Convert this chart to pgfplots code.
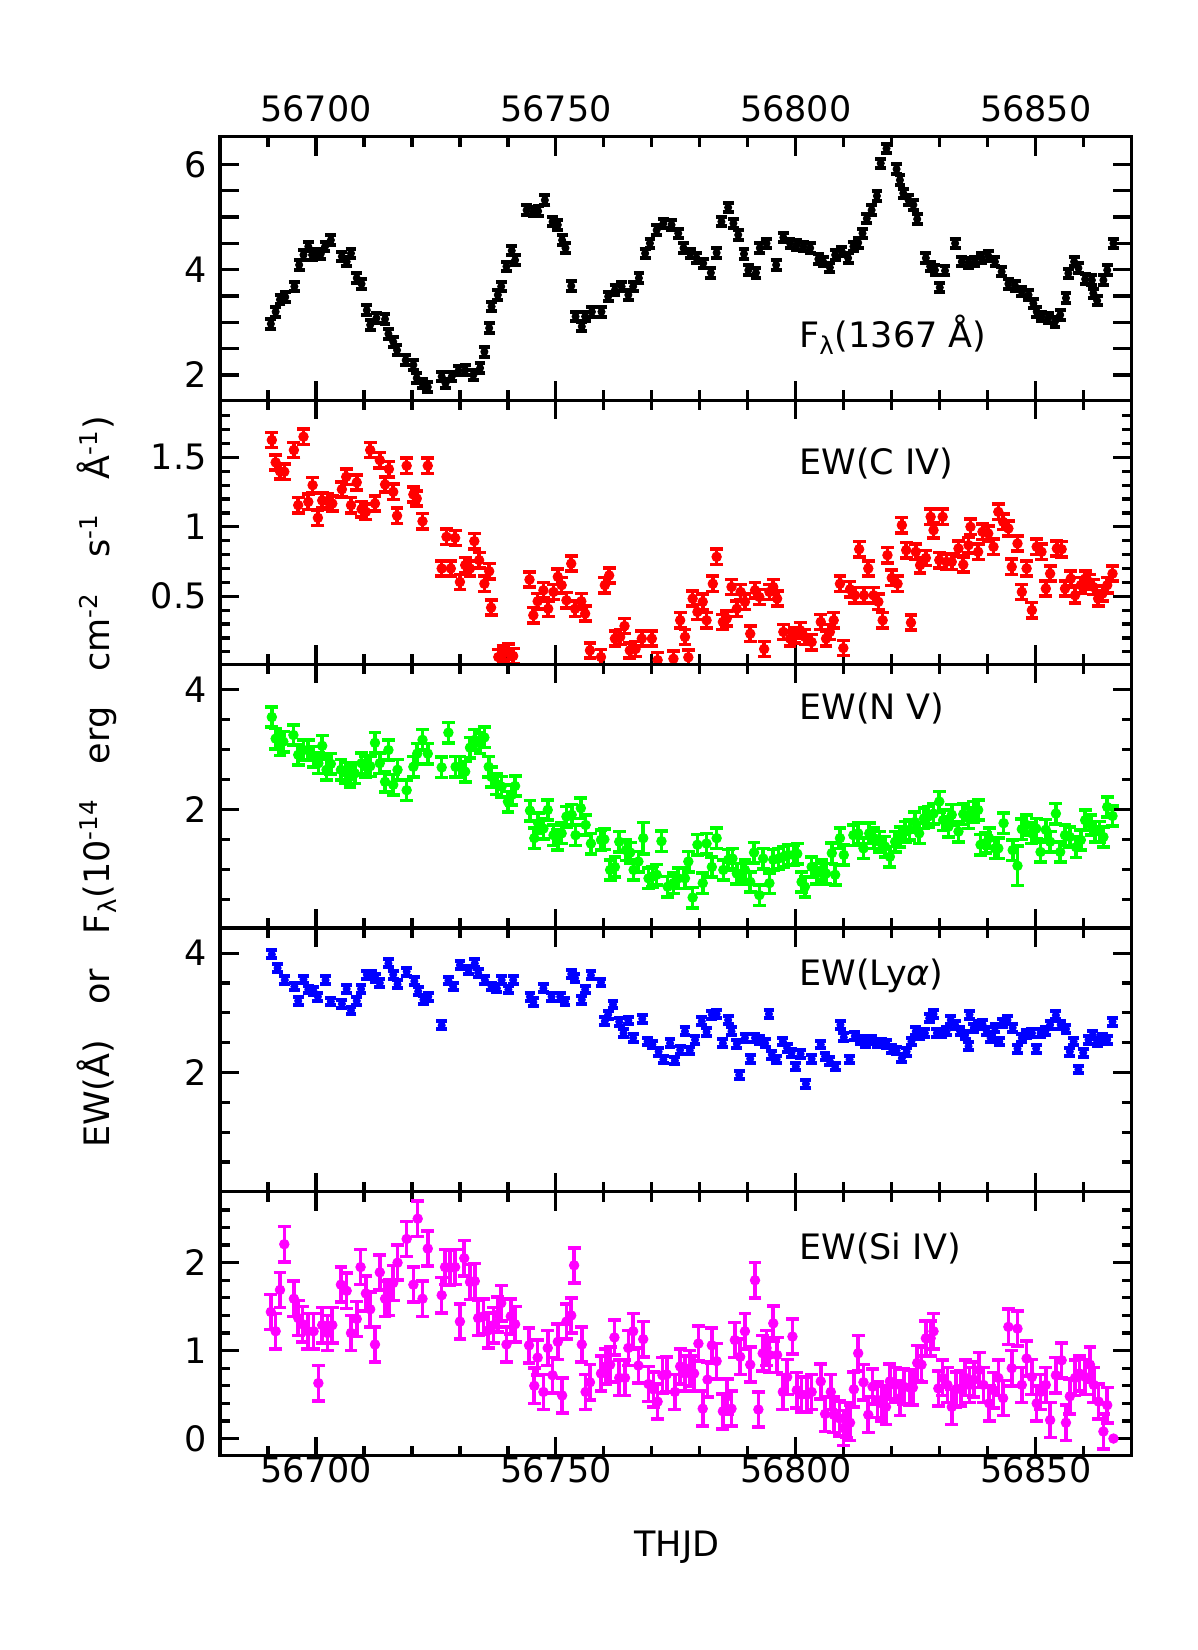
\documentclass[border=0pt]{standalone}
\usepackage{pgfplots}
\pgfplotsset{compat=1.18}
\usepackage{fontspec}
\setmainfont{DejaVu Sans}

\definecolor{grn}{RGB}{0,255,0}
\definecolor{mag}{RGB}{255,0,255}
\newcommand{\lblfont}{\fontsize{17.5}{21}\selectfont}
\newcommand{\wsp}{\hspace{1em}}

\pgfplotsset{
  panel/.style={
    scale only axis, width=455.85pt, height=131.9pt,
    anchor=south west,
    xmin=56680, xmax=56870,
    scaled x ticks=false, scaled y ticks=false,
    xtick={56700,56750,56800,56850},
    minor xtick={56690,56710,56720,56730,56740,56760,56770,56780,56790,56810,56820,56830,56840,56860},
    xtick pos=both, ytick pos=both,
    xticklabels={},
    tick align=inside,
    major tick length=9.5pt, minor tick length=5pt,
    tick style={black, line width=1.6pt},
    axis line style={line width=1.6pt},
    tick label style={font=\lblfont},
    yticklabel style={xshift=-3.2pt},
  },
  % #1 colour, #2 dot size, #3 half error, #4 cap half width, #5 bar width
  ser/.style n args={5}{
    only marks, color=#1, mark=*, mark size=#2,
    mark options={solid, draw=#1, fill=#1},
    error bars/.cd, y dir=both, y fixed=#3,
    error bar style={line width=#5, #1},
    error mark options={rotate=90, line width=#5, mark size=#4, #1},
    /pgfplots/.cd,
  },
}

\begin{document}
\begin{tikzpicture}
\useasboundingbox (0,0) rectangle (599pt,825pt);

% ---------------- F_lambda(1367 A) ----------------
\begin{axis}[panel, at={(110pt,624.75pt)},
  ymin=1.515, ymax=6.525,
  ytick={2,4,6}, yticklabels={2,4,6},
  extra y ticks={2.5,3,3.5,4.5,5,5.5}, extra y tick labels={},
  xticklabel pos=upper,
  xticklabels={56700,56750,56800,56850},
  xticklabel style={yshift=3.7pt}]
\addplot+[ser={black}{1.8pt}{0.09}{2.7pt}{2pt}] coordinates {
(56690.6,2.97) (56691.6,3.20) (56692.5,3.43) (56693.6,3.48) (56695.5,3.68) (56696.5,4.09) (56697.4,4.28) (56698.4,4.44) (56699.2,4.28) (56700.1,4.31) (56701.0,4.30) (56701.9,4.44) (56703.1,4.56) (56705.4,4.25) (56706.4,4.15) (56707.3,4.31) (56708.5,3.84) (56709.5,3.73) (56710.6,3.23) (56711.3,2.95) (56712.6,3.08) (56714.4,3.06) (56715.1,2.78) (56716.1,2.63) (56716.9,2.47) (56718.7,2.28) (56720.3,2.19) (56721.0,1.94) (56722.2,1.84) (56723.3,1.77) (56726.2,1.97) (56727.0,1.84) (56728.3,1.97) (56729.7,2.08) (56731.1,2.09) (56732.8,2.00) (56734.2,2.13) (56735.1,2.44) (56736.1,2.89) (56736.6,3.30) (56737.9,3.52) (56738.6,3.68) (56739.7,4.06) (56740.8,4.36) (56741.5,4.18) (56743.9,5.13) (56745.3,5.10) (56746.3,5.11) (56747.7,5.32) (56749.3,4.91) (56750.4,4.85) (56751.3,4.56) (56752.0,4.41) (56753.2,3.69) (56754.1,3.11) (56755.4,2.92) (56756.1,3.11) (56757.5,3.20) (56759.5,3.20) (56760.9,3.49) (56762.3,3.61) (56763.7,3.68) (56765.1,3.52) (56766.1,3.68) (56767.3,3.84) (56768.6,4.31) (56769.6,4.50) (56771.0,4.75) (56772.4,4.88) (56774.1,4.85) (56775.5,4.69) (56776.6,4.41) (56778.0,4.31) (56779.3,4.22) (56780.7,4.12) (56782.3,3.94) (56783.5,4.32) (56784.5,4.91) (56785.9,5.18) (56787.0,4.88) (56788.0,4.66) (56789.2,4.30) (56790.1,3.99) (56791.7,3.94) (56792.5,4.41) (56793.9,4.50) (56795.9,4.09) (56797.4,4.61) (56798.8,4.50) (56800.2,4.47) (56801.6,4.44) (56803.0,4.41) (56804.7,4.20) (56805.7,4.15) (56807.1,4.04) (56808.2,4.28) (56809.6,4.34) (56810.9,4.22) (56812.0,4.44) (56813.0,4.51) (56813.9,4.69) (56814.8,4.97) (56815.8,5.13) (56816.9,5.40) (56817.7,6.02) (56818.9,6.30) (56821.0,5.91) (56821.7,5.70) (56822.4,5.45) (56823.5,5.32) (56824.5,5.23) (56825.3,4.96) (56827.1,4.22) (56828.0,4.06) (56829.0,3.99) (56830.0,3.66) (56831.1,3.98) (56833.2,4.50) (56834.6,4.15) (56836.0,4.13) (56837.3,4.15) (56838.7,4.22) (56840.1,4.26) (56841.5,4.15) (56842.9,3.96) (56844.3,3.73) (56845.7,3.69) (56847.1,3.58) (56848.5,3.52) (56849.5,3.36) (56850.2,3.20) (56851.2,3.11) (56852.6,3.08) (56854.0,3.01) (56855.1,3.14) (56856.3,3.46) (56856.8,3.93) (56858.0,4.15) (56858.9,4.03) (56860.3,3.82) (56861.7,3.80) (56862.0,3.55) (56862.8,3.41) (56864.1,3.80) (56864.9,3.99) (56866.2,4.50)
};
\node[anchor=base west, inner sep=0, font=\lblfont] at (rel axis cs:0.635,0.199) {F\textsubscript{λ}(1367 Å)};
\end{axis}

% ---------------- EW(C IV) ----------------
\begin{axis}[panel, at={(110pt,492.85pt)},
  ymin=0.01, ymax=1.91,
  ytick={0.5,1,1.5}, yticklabels={0.5,1,1.5},
  minor ytick={0.1,0.2,0.3,0.4,0.6,0.7,0.8,0.9,1.1,1.2,1.3,1.4,1.6,1.7,1.8}]
\addplot+[ser={red}{2.4pt}{0.055}{3.2pt}{1.8pt}] coordinates {
(56690.8,1.625) (56691.6,1.464) (56692.5,1.40) (56693.4,1.397) (56695.4,1.553) (56696.3,1.156) (56697.4,1.649) (56698.4,1.18) (56699.3,1.30) (56700.4,1.065) (56701.3,1.19) (56702.4,1.185) (56703.4,1.168) (56705.4,1.27) (56706.3,1.36) (56707.3,1.156) (56708.5,1.32) (56709.5,1.127) (56710.4,1.108) (56711.3,1.553) (56712.3,1.168) (56713.3,1.48) (56714.4,1.305) (56715.2,1.416) (56716.1,1.252) (56716.9,1.08) (56718.9,1.44) (56720.3,1.233) (56721.0,1.204) (56722.2,1.04) (56723.3,1.44) (56726.2,0.70) (56727.2,0.928) (56728.1,0.70) (56729.0,0.92) (56730.0,0.603) (56731.1,0.724) (56732.1,0.70) (56733.0,0.897) (56734.0,0.76) (56735.1,0.59) (56736.1,0.68) (56736.5,0.418) (56738.0,0.062) (56739.0,0.086) (56740.1,0.10) (56741.1,0.07) (56744.5,0.62) (56745.3,0.363) (56746.2,0.464) (56747.4,0.543) (56748.4,0.41) (56749.5,0.531) (56750.4,0.64) (56751.2,0.58) (56752.2,0.471) (56753.2,0.735) (56754.0,0.41) (56755.3,0.464) (56756.1,0.375) (56757.1,0.11) (56759.4,0.062) (56760.2,0.58) (56761.1,0.65) (56762.3,0.195) (56763.4,0.207) (56764.3,0.286) (56765.4,0.11) (56766.6,0.12) (56767.9,0.195) (56770.0,0.195) (56771.2,0.04) (56774.5,0.05) (56775.9,0.327) (56776.9,0.207) (56777.6,0.06) (56778.5,0.483) (56779.5,0.387) (56780.6,0.46) (56781.4,0.327) (56782.7,0.59) (56783.5,0.784) (56784.8,0.315) (56785.6,0.339) (56786.6,0.567) (56787.7,0.41) (56788.5,0.531) (56789.4,0.46) (56790.5,0.23) (56791.5,0.543) (56792.4,0.495) (56793.4,0.12) (56794.5,0.531) (56795.3,0.567) (56796.1,0.483) (56797.4,0.243) (56798.8,0.195) (56799.8,0.22) (56800.9,0.255) (56801.9,0.207) (56803.3,0.17) (56805.2,0.315) (56806.3,0.195) (56807.1,0.243) (56807.9,0.327) (56809.2,0.59) (56809.9,0.127) (56811.3,0.55) (56812.3,0.507) (56813.2,0.839) (56814.2,0.507) (56815.1,0.70) (56816.2,0.507) (56817.2,0.46) (56818.1,0.327) (56819.1,0.796) (56820.0,0.632) (56821.2,0.59) (56822.1,1.012) (56823.0,0.832) (56824.0,0.31) (56825.0,0.82) (56825.9,0.724) (56827.1,0.776) (56828.1,1.072) (56828.7,0.976) (56829.9,0.76) (56830.6,1.072) (56831.4,0.748) (56832.5,0.748) (56833.9,0.844) (56834.9,0.728) (56836.0,0.868) (56836.4,1.0) (56838.0,0.82) (56838.9,0.964) (56840.1,0.952) (56841.2,0.856) (56842.2,1.108) (56843.2,1.036) (56844.3,0.988) (56845.0,0.712) (56846.2,0.88) (56847.1,0.531) (56848.1,0.70) (56849.2,0.40) (56850.2,0.856) (56851.2,0.82) (56852.1,0.555) (56853.0,0.663) (56854.4,0.844) (56855.4,0.839) (56856.1,0.555) (56857.3,0.627) (56858.2,0.507) (56859.4,0.58) (56860.3,0.627) (56861.2,0.603) (56862.0,0.567) (56863.0,0.483) (56863.9,0.519) (56864.9,0.58) (56866.0,0.663)
};
\node[anchor=base west, inner sep=0, font=\lblfont] at (rel axis cs:0.635,0.718) {EW(C IV)};
\end{axis}

% ---------------- EW(N V) ----------------
\begin{axis}[panel, at={(110pt,360.95pt)},
  ymin=0.02, ymax=4.42,
  ytick={2,4}, yticklabels={2,4},
  minor ytick={0.5,1,1.5,2.5,3,3.5}]
\addplot+[ser={grn}{2.4pt}{0.17}{3.2pt}{1.8pt}] coordinates {
(56690.8,3.54) (56691.6,3.18) (56692.5,3.07) (56693.2,3.13) (56695.3,3.24) (56696.3,2.91) (56697.4,2.99) (56698.4,2.99) (56699.5,2.88) (56700.5,2.77) (56701.3,3.06) (56702.2,2.66) (56703.1,2.76) (56705.2,2.66) (56706.2,2.61) (56707.1,2.54) (56708.1,2.60) (56709.5,2.77) (56710.4,2.71) (56711.3,2.72) (56712.3,3.11) (56713.3,2.77) (56714.4,2.46) (56715.1,2.99) (56716.1,2.41) (56717.0,2.66) (56718.9,2.32) (56720.3,2.71) (56721.1,2.93) (56722.2,3.16) (56723.3,2.93) (56726.2,2.70) (56727.6,3.28) (56729.1,2.71) (56730.0,2.71) (56731.1,2.63) (56732.1,3.03) (56733.1,3.16) (56734.2,3.10) (56735.1,3.20) (56736.0,2.71) (56736.6,2.54) (56737.7,2.42) (56738.7,2.38) (56740.0,2.13) (56740.8,2.24) (56741.5,2.39) (56744.6,1.98) (56745.5,1.52) (56746.3,1.77) (56747.4,1.68) (56748.3,1.99) (56749.5,1.57) (56750.4,1.49) (56751.2,1.60) (56752.2,1.88) (56753.3,1.91) (56754.1,1.57) (56755.2,2.02) (56756.2,1.74) (56757.3,1.43) (56759.4,1.49) (56760.1,1.50) (56761.3,0.99) (56762.3,1.04) (56763.2,1.46) (56764.6,1.32) (56765.5,1.28) (56766.2,0.99) (56767.2,1.13) (56769.3,0.85) (56770.1,0.88) (56771.0,0.91) (56772.0,1.47) (56773.3,0.71) (56774.5,0.77) (56775.5,0.85) (56776.9,0.85) (56777.6,1.13) (56778.5,0.53) (56779.5,1.41) (56780.6,0.77) (56781.4,1.43) (56782.5,1.04) (56783.5,1.52) (56784.9,0.99) (56785.9,1.16) (56786.8,1.18) (56787.7,0.93) (56788.7,0.93) (56789.4,0.99) (56790.5,0.79) (56791.3,1.28) (56792.4,0.57) (56793.2,1.18) (56794.5,0.77) (56795.3,1.16) (56796.4,1.18) (56797.4,1.21) (56798.4,1.24) (56799.5,1.24) (56800.3,1.26) (56801.2,0.79) (56801.9,0.71) (56803.3,1.04) (56804.3,0.93) (56805.4,0.99) (56806.3,0.93) (56807.5,1.27) (56808.2,0.91) (56809.2,1.52) (56810.0,1.24) (56812.0,1.57) (56813.0,1.60) (56814.1,1.35) (56815.3,1.60) (56816.3,1.52) (56817.4,1.46) (56818.6,1.38) (56819.6,1.21) (56820.7,1.46) (56821.7,1.54) (56822.8,1.63) (56823.7,1.66) (56824.8,1.79) (56825.7,1.60) (56826.7,1.85) (56827.6,1.88) (56828.7,1.93) (56829.9,2.13) (56830.7,1.82) (56831.8,1.71) (56832.5,1.91) (56833.9,1.63) (56834.9,1.92) (56836.0,1.85) (56837.1,1.96) (56838.0,1.99) (56838.5,1.41) (56839.6,1.44) (56840.3,1.52) (56841.5,1.35) (56842.2,1.35) (56843.3,1.77) (56845.2,1.32) (56847.1,1.67) (56848.1,1.74) (56849.2,1.60) (56850.1,1.68) (56851.0,1.29) (56852.1,1.66) (56853.0,1.46) (56854.2,1.93) (56855.1,1.29) (56856.1,1.57) (56857.1,1.54) (56858.4,1.37) (56859.4,1.49) (56860.3,1.82) (56861.5,1.74) (56862.4,1.63) (56863.3,1.63) (56864.1,1.54) (56864.9,2.04) (56866.0,1.89)
};
% two epochs with larger uncertainties
\addplot+[ser={grn}{2.4pt}{0.17}{3.2pt}{1.8pt}, /pgfplots/error bars/y explicit] coordinates {
(56768.2,1.52) +- (0,0.26)
(56846.2,1.06) +- (0,0.33)
};
\node[anchor=base west, inner sep=0, font=\lblfont] at (rel axis cs:0.635,0.789) {EW(N V)};
\end{axis}

% ---------------- EW(Ly alpha) ----------------
\begin{axis}[panel, at={(110pt,229.05pt)},
  ymin=0, ymax=4.42,
  ytick={2,4}, yticklabels={2,4},
  minor ytick={0.5,1,1.5,2.5,3,3.5}]
\addplot+[ser={blue}{1.8pt}{0.065}{2.7pt}{2pt}] coordinates {
(56690.8,3.98) (56692.0,3.75) (56693.5,3.55) (56695.5,3.44) (56696.3,3.20) (56697.4,3.56) (56698.4,3.39) (56699.5,3.36) (56700.4,3.27) (56702.0,3.55) (56703.1,3.19) (56705.4,3.15) (56706.4,3.40) (56707.3,3.04) (56708.5,3.20) (56709.4,3.40) (56710.6,3.64) (56711.5,3.63) (56712.4,3.58) (56713.3,3.50) (56715.1,3.83) (56716.1,3.64) (56717.0,3.48) (56718.9,3.69) (56720.5,3.53) (56721.3,3.36) (56722.4,3.22) (56723.4,3.27) (56726.2,2.79) (56727.6,3.54) (56728.6,3.44) (56730.0,3.80) (56731.8,3.72) (56733.1,3.83) (56733.8,3.67) (56735.2,3.55) (56736.6,3.44) (56737.7,3.41) (56738.7,3.55) (56740.1,3.39) (56741.1,3.55) (56744.6,3.27) (56745.3,3.18) (56747.4,3.41) (56749.1,3.27) (56750.9,3.27) (56751.9,3.19) (56753.2,3.65) (56754.0,3.58) (56755.4,3.22) (56756.1,3.39) (56757.3,3.63) (56759.4,3.51) (56760.2,2.86) (56760.9,2.97) (56761.9,3.14) (56763.2,2.85) (56764.1,2.66) (56765.1,2.87) (56766.1,2.58) (56768.0,2.90) (56769.1,2.52) (56770.1,2.47) (56771.4,2.35) (56772.4,2.22) (56773.8,2.49) (56774.8,2.20) (56775.9,2.38) (56776.9,2.69) (56777.9,2.37) (56779.0,2.55) (56780.4,2.86) (56781.4,2.68) (56782.5,2.97) (56783.5,2.98) (56784.8,2.49) (56785.9,2.88) (56786.6,2.69) (56787.7,2.48) (56788.2,1.96) (56789.4,2.58) (56790.5,2.23) (56791.5,2.58) (56792.5,2.55) (56793.6,2.49) (56794.4,2.98) (56795.0,2.30) (56796.0,2.22) (56797.3,2.52) (56798.2,2.41) (56799.1,2.33) (56800.0,2.10) (56801.0,2.31) (56802.1,1.81) (56803.3,2.23) (56805.2,2.47) (56806.1,2.27) (56807.1,2.19) (56808.2,2.10) (56809.3,2.80) (56810.0,2.59) (56811.2,2.22) (56812.3,2.61) (56813.5,2.55) (56814.6,2.49) (56815.8,2.55) (56816.9,2.49) (56817.9,2.49) (56818.9,2.48) (56820.0,2.40) (56821.0,2.37) (56822.1,2.24) (56823.1,2.35) (56824.1,2.52) (56825.0,2.69) (56825.9,2.63) (56826.9,2.66) (56827.8,2.91) (56828.7,2.98) (56829.4,2.66) (56830.4,2.66) (56831.4,2.69) (56832.3,2.88) (56833.2,2.80) (56834.2,2.70) (56835.3,2.63) (56836.0,2.44) (56836.2,2.97) (56837.1,2.75) (56838.0,2.80) (56838.9,2.81) (56839.8,2.69) (56840.6,2.58) (56841.5,2.75) (56842.4,2.52) (56843.1,2.83) (56844.1,2.88) (56845.2,2.75) (56846.2,2.40) (56847.1,2.58) (56848.1,2.64) (56849.2,2.66) (56850.1,2.40) (56851.0,2.66) (56852.0,2.69) (56853.0,2.80) (56854.2,2.96) (56855.2,2.80) (56856.3,2.73) (56857.1,2.35) (56857.9,2.52) (56858.9,2.05) (56859.9,2.33) (56861.0,2.55) (56861.9,2.63) (56862.8,2.51) (56863.9,2.58) (56864.9,2.55) (56866.0,2.85)
};
\node[anchor=base west, inner sep=0, font=\lblfont] at (rel axis cs:0.635,0.784) {EW(Ly{\itshape α})};
\end{axis}

% ---------------- EW(Si IV) ----------------
\begin{axis}[panel, at={(110pt,97.15pt)},
  ymin=-0.195, ymax=2.805,
  ytick={0,1,2}, yticklabels={0,1,2},
  minor ytick={0.2,0.4,0.6,0.8,1.2,1.4,1.6,1.8,2.2,2.4,2.6},
  xticklabel pos=lower,
  xticklabels={56700,56750,56800,56850},
  xticklabel style={yshift=3pt}]
\addplot+[ser={mag}{2.4pt}{0.2}{3.2pt}{1.8pt}] coordinates {
(56690.6,1.44) (56691.6,1.22) (56692.5,1.69) (56693.4,2.21) (56695.4,1.59) (56696.3,1.37) (56697.2,1.30) (56698.3,1.22) (56699.5,1.22) (56700.5,0.63) (56701.3,1.29) (56702.4,1.20) (56703.4,1.29) (56705.2,1.75) (56706.4,1.68) (56707.3,1.20) (56708.5,1.36) (56709.3,1.95) (56710.4,1.65) (56711.3,1.47) (56712.3,1.07) (56713.3,1.89) (56714.4,1.59) (56715.2,1.60) (56716.1,1.77) (56717.0,2.00) (56718.9,2.27) (56720.3,1.75) (56721.2,2.50) (56722.2,1.59) (56723.3,2.16) (56726.2,1.63) (56726.9,1.95) (56727.9,1.94) (56729.0,1.95) (56730.0,1.33) (56730.9,2.05) (56732.1,1.78) (56733.1,1.79) (56733.8,1.37) (56734.9,1.39) (56735.9,1.23) (56737.0,1.29) (56737.9,1.41) (56738.6,1.54) (56739.7,1.07) (56740.6,1.39) (56741.5,1.30) (56744.4,1.06) (56745.5,0.60) (56746.2,0.92) (56747.4,0.53) (56748.3,1.03) (56749.3,0.72) (56750.4,1.10) (56751.3,0.49) (56752.2,1.33) (56753.2,1.40) (56753.8,1.97) (56755.4,1.07) (56756.2,0.53) (56757.1,0.64) (56759.4,0.74) (56760.4,0.82) (56761.3,0.84) (56762.2,1.15) (56763.2,0.69) (56764.4,0.69) (56765.1,1.03) (56766.1,1.22) (56767.2,0.83) (56768.2,1.13) (56769.3,0.62) (56770.3,0.56) (56771.2,0.42) (56772.2,0.72) (56773.1,0.73) (56774.8,0.53) (56775.9,0.82) (56776.9,0.74) (56777.9,0.80) (56778.8,0.74) (56779.7,1.08) (56780.6,0.34) (56781.6,0.67) (56782.5,1.06) (56783.5,0.88) (56784.8,0.31) (56785.7,0.48) (56786.6,0.34) (56787.3,1.12) (56788.4,0.93) (56789.4,1.22) (56790.5,0.84) (56791.5,1.80) (56792.2,0.33) (56793.1,0.97) (56793.9,1.03) (56794.5,0.95) (56795.3,1.31) (56796.1,0.95) (56797.3,0.53) (56798.2,0.70) (56799.3,1.16) (56800.2,0.55) (56801.2,0.50) (56802.3,0.50) (56803.3,0.53) (56805.2,0.65) (56806.1,0.28) (56807.3,0.53) (56807.9,0.27) (56809.1,0.23) (56809.9,0.12) (56810.6,0.21) (56811.3,0.18) (56812.1,0.56) (56813.0,0.97) (56814.1,0.64) (56815.1,0.27) (56816.0,0.59) (56817.0,0.44) (56817.9,0.40) (56818.8,0.36) (56819.6,0.65) (56820.7,0.61) (56821.7,0.46) (56822.5,0.59) (56823.7,0.58) (56824.4,0.58) (56825.3,0.86) (56826.2,0.84) (56827.1,1.14) (56828.1,1.14) (56828.7,1.22) (56829.7,0.57) (56830.6,0.69) (56831.6,0.61) (56832.5,0.36) (56833.4,0.56) (56834.4,0.57) (56835.3,0.69) (56836.2,0.61) (56837.1,0.67) (56838.2,0.78) (56839.1,0.61) (56840.3,0.40) (56841.2,0.55) (56842.2,0.69) (56843.2,0.46) (56844.3,1.27) (56845.0,0.80) (56846.2,1.25) (56847.1,0.61) (56848.1,0.91) (56849.2,0.70) (56850.2,0.40) (56851.0,0.53) (56852.1,0.61) (56853.0,0.21) (56854.2,0.72) (56855.4,0.89) (56856.3,0.18) (56857.1,0.48) (56858.2,0.69) (56859.1,0.74) (56860.3,0.70) (56861.3,0.84) (56862.1,0.61) (56863.1,0.42) (56864.1,0.08) (56864.9,0.38)
};
\addplot[only marks, mark=*, mark size=2.4pt, color=mag] coordinates {(56866.2,0.0)};
\node[anchor=base west, inner sep=0, font=\lblfont] at (rel axis cs:0.635,0.742) {EW(Si IV)};
\end{axis}

% shared axis titles
\node[rotate=90, font=\lblfont] at (48.5pt,434pt)
  {EW(Å)\wsp or\wsp F\textsubscript{λ}(10\textsuperscript{-14}\wsp erg\wsp cm\textsuperscript{-2}\wsp s\textsuperscript{-1}\wsp Å\textsuperscript{-1})};
\node[font=\lblfont] at (338.5pt,51.5pt) {THJD};
\end{tikzpicture}
\end{document}
